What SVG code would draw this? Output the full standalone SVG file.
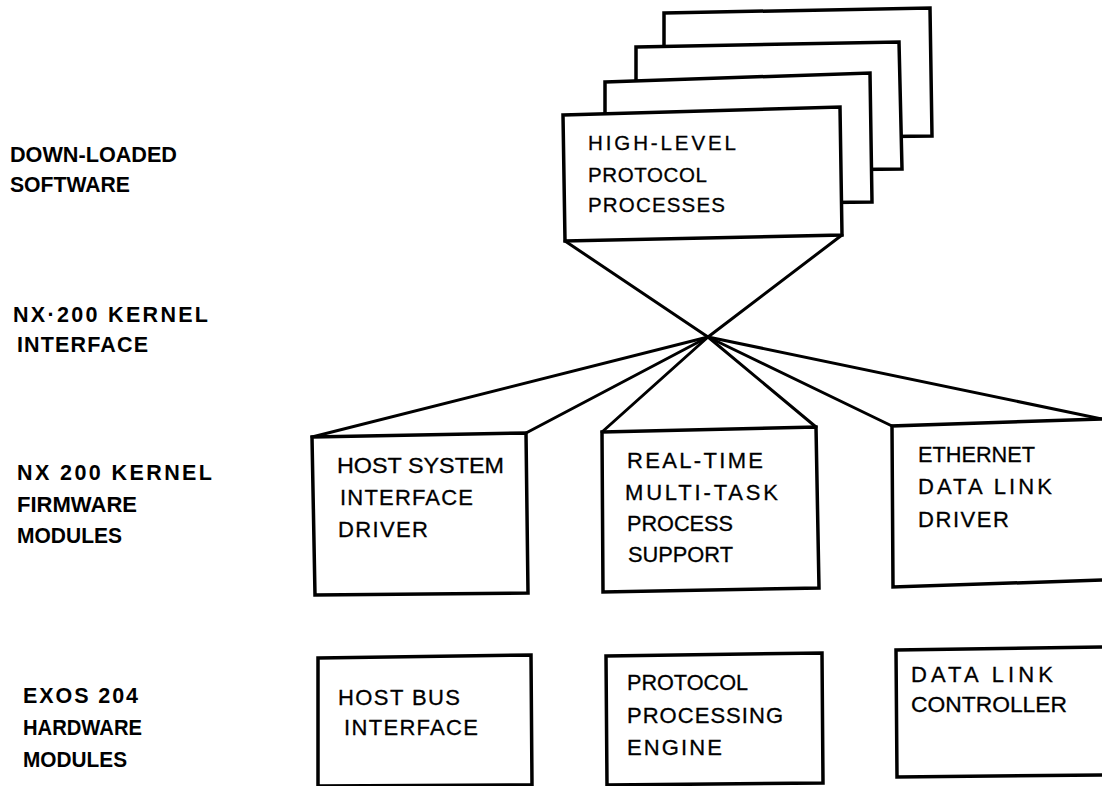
<svg xmlns="http://www.w3.org/2000/svg" width="1102" height="786" viewBox="0 0 1102 786">
<style>
  .box { fill: #fff; stroke: #000; stroke-width: 3.5; stroke-linejoin: miter; }
  .open { fill: none; stroke: #000; stroke-width: 3.5; }
  .conn { stroke: #000; stroke-width: 3; fill: none; stroke-linecap: round; }
  .t { font-family: "Liberation Sans", Arial, Helvetica, sans-serif; font-size: 22px; fill: #000; stroke: #000; stroke-width: 0.3; }
  .ts { font-family: "Liberation Sans", Arial, Helvetica, sans-serif; font-size: 20.5px; fill: #000; stroke: #000; stroke-width: 0.3; }
  .lbl { font-family: "Liberation Sans", Arial, Helvetica, sans-serif; font-size: 21.5px; font-weight: bold; fill: #000; }
</style>
<rect width="1102" height="786" fill="#fff"/>

<g id="layer-labels">
  <text class="lbl" x="10" y="162" textLength="167" lengthAdjust="spacingAndGlyphs">DOWN-LOADED</text>
  <text class="lbl" x="10" y="192" textLength="120" lengthAdjust="spacingAndGlyphs">SOFTWARE</text>
  <text class="lbl" x="13" y="322" textLength="195" lengthAdjust="spacing">NX·200 KERNEL</text>
  <text class="lbl" x="17" y="352" textLength="131" lengthAdjust="spacing">INTERFACE</text>
  <text class="lbl" x="17" y="480" textLength="195" lengthAdjust="spacing">NX 200 KERNEL</text>
  <text class="lbl" x="17" y="512" textLength="120" lengthAdjust="spacingAndGlyphs">FIRMWARE</text>
  <text class="lbl" x="17" y="543" textLength="105" lengthAdjust="spacingAndGlyphs">MODULES</text>
  <text class="lbl" x="23" y="703" textLength="115" lengthAdjust="spacing">EXOS 204</text>
  <text class="lbl" x="23" y="735" textLength="119" lengthAdjust="spacingAndGlyphs">HARDWARE</text>
  <text class="lbl" x="23" y="767" textLength="104" lengthAdjust="spacingAndGlyphs">MODULES</text>
</g>

<g id="connectors">
  <line class="conn" x1="565" y1="241" x2="708" y2="337"/>
  <line class="conn" x1="842" y1="235" x2="708" y2="337"/>
  <line class="conn" x1="708" y1="337" x2="312" y2="437"/>
  <line class="conn" x1="708" y1="337" x2="526" y2="433"/>
  <line class="conn" x1="708" y1="337" x2="602" y2="432"/>
  <line class="conn" x1="708" y1="337" x2="816" y2="427"/>
  <line class="conn" x1="708" y1="337" x2="892" y2="426"/>
  <line class="conn" x1="708" y1="337" x2="1102" y2="419"/>
</g>

<g id="protocol-stack">
  <polygon class="box" points="664,13 930,8 932,136 664,139"/>
  <polygon class="box" points="636,47 899,42 902,169 636,172"/>
  <polygon class="box" points="605,82 870,73 872,202 605,205"/>
</g>

<g id="high-level-protocol-processes">
  <polygon class="box" points="563,115 840,107 842,235 565,241"/>
  <text class="ts" x="588" y="150" textLength="148" lengthAdjust="spacing">HIGH-LEVEL</text>
  <text class="ts" x="588" y="182" textLength="119" lengthAdjust="spacing">PROTOCOL</text>
  <text class="ts" x="588" y="212" textLength="137" lengthAdjust="spacing">PROCESSES</text>
</g>

<g id="host-system-interface-driver">
  <polygon class="box" points="312,437 526,433 528,593 315,595"/>
  <text class="t" x="337" y="473" textLength="167" lengthAdjust="spacingAndGlyphs">HOST SYSTEM</text>
  <text class="t" x="340" y="505" textLength="133" lengthAdjust="spacing">INTERFACE</text>
  <text class="t" x="338" y="537" textLength="90" lengthAdjust="spacing">DRIVER</text>
</g>

<g id="real-time-multi-task">
  <polygon class="box" points="602,432 816,427 819,588 603,592"/>
  <text class="t" x="627" y="468" textLength="136" lengthAdjust="spacing">REAL-TIME</text>
  <text class="t" x="625" y="500" textLength="153" lengthAdjust="spacing">MULTI-TASK</text>
  <text class="t" x="627" y="531" textLength="106" lengthAdjust="spacingAndGlyphs">PROCESS</text>
  <text class="t" x="628" y="562" textLength="105" lengthAdjust="spacingAndGlyphs">SUPPORT</text>
</g>

<g id="ethernet-data-link-driver">
  <polygon points="892,426 1102,419 1102,580 893,587" fill="#fff"/>
  <polyline class="open" points="1102,419 892,426 893,587 1102,580"/>
  <text class="t" x="918" y="462" textLength="117" lengthAdjust="spacingAndGlyphs">ETHERNET</text>
  <text class="t" x="918" y="494" textLength="134" lengthAdjust="spacing">DATA LINK</text>
  <text class="t" x="918" y="527" textLength="91" lengthAdjust="spacing">DRIVER</text>
</g>

<g id="host-bus-interface">
  <polygon class="box" points="318,658 531,655 532,785 318,786"/>
  <text class="t" x="338" y="705" textLength="122" lengthAdjust="spacing">HOST BUS</text>
  <text class="t" x="344" y="735" textLength="134" lengthAdjust="spacing">INTERFACE</text>
</g>

<g id="protocol-processing-engine">
  <polygon class="box" points="606,656 822,653 823,783 607,785"/>
  <text class="t" x="627" y="690" textLength="121" lengthAdjust="spacingAndGlyphs">PROTOCOL</text>
  <text class="t" x="627" y="723" textLength="156" lengthAdjust="spacing">PROCESSING</text>
  <text class="t" x="627" y="755" textLength="95" lengthAdjust="spacing">ENGINE</text>
</g>

<g id="data-link-controller">
  <polyline class="open" points="1102,647 896,650 897,777 1102,775"/>
  <text class="t" x="911" y="682" textLength="142" lengthAdjust="spacing">DATA LINK</text>
  <text class="t" x="911" y="712" textLength="156" lengthAdjust="spacingAndGlyphs">CONTROLLER</text>
</g>
</svg>
